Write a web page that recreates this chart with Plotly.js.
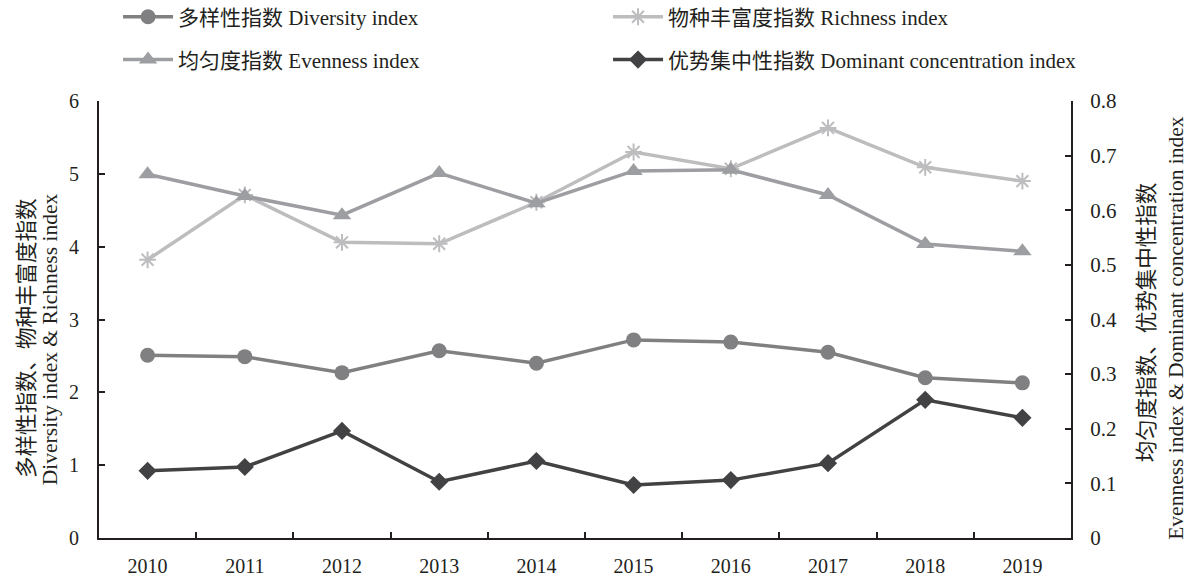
<!DOCTYPE html>
<html><head><meta charset="utf-8">
<script src="https://cdn.plot.ly/plotly-3.0.1.min.js"></script>
<style>body{margin:0;background:#fff}#c{width:1190px;height:580px}</style>
</head><body><div id="c"></div>
<script>
var years = ['2010','2011','2012','2013','2014','2015','2016','2017','2018','2019'];
var diversity = [2.51, 2.49, 2.27, 2.57, 2.40, 2.72, 2.69, 2.55, 2.20, 2.13];
var richness  = [3.82, 4.71, 4.06, 4.04, 4.61, 5.30, 5.07, 5.63, 5.09, 4.90];
var evenness  = [0.666, 0.626, 0.591, 0.668, 0.613, 0.672, 0.674, 0.628, 0.538, 0.525];
var dominant  = [0.123, 0.130, 0.196, 0.103, 0.141, 0.097, 0.106, 0.137, 0.253, 0.220];
var leftTicks = [0,1,2,3,4,5,6];
var rightTicks = [0,0.1,0.2,0.3,0.4,0.5,0.6,0.7,0.8];
var rightTickText = ['0','0.1','0.2','0.3','0.4','0.5','0.6','0.7','0.8'];
var leftTitle = ['多样性指数、物种丰富度指数', 'Diversity index & Richness index'];
var rightTitle = ['均匀度指数、优势集中性指数', 'Evenness index & Dominant concentration index'];

var FONT = '"Liberation Serif", "Noto Sans CJK SC", serif';
var traces = [
  {x: years, y: diversity, name: '多样性指数 Diversity index', mode: 'lines+markers', yaxis: 'y', legend: 'legend',
   line: {color: '#808082', width: 3.5}, marker: {symbol: 'circle', size: 15, color: '#808082'}},
  {x: years, y: richness, name: '物种丰富度指数 Richness index', mode: 'lines+markers', yaxis: 'y', legend: 'legend2',
   line: {color: '#bdbdbf', width: 3.5}, marker: {symbol: 'asterisk-open', size: 14, color: '#bdbdbf', line: {width: 2, color: '#bdbdbf'}}},
  {x: years, y: evenness, name: '均匀度指数 Evenness index', mode: 'lines+markers', yaxis: 'y2', legend: 'legend3',
   line: {color: '#9d9ea1', width: 3.5}, marker: {symbol: 'triangle-up', size: 16, color: '#9d9ea1'}},
  {x: years, y: dominant, name: '优势集中性指数 Dominant concentration index', mode: 'lines+markers', yaxis: 'y2', legend: 'legend4',
   line: {color: '#424244', width: 3.5}, marker: {symbol: 'diamond', size: 14, color: '#424244'}}
];
var axisLine = {showline: true, linecolor: '#231f20', linewidth: 2, ticks: 'inside', ticklen: 6, tickwidth: 2, tickcolor: '#231f20', showgrid: false, zeroline: false};
function leg(x, y) {
  return {orientation: 'h', x: x, y: y, xanchor: 'left', yanchor: 'middle',
    font: {family: FONT, size: 21, color: '#231f20'}, bgcolor: 'rgba(0,0,0,0)', itemwidth: 50};
}
function ann(text, x, y) {
  return {text: text, xref: 'paper', yref: 'paper', x: x, y: y, xanchor: 'center', yanchor: 'middle',
    textangle: -90, showarrow: false, font: {family: FONT, size: 21.5, color: '#231f20'}};
}
var layout = {
  width: 1190, height: 580,
  margin: {l: 99, r: 119, t: 101, b: 42, autoexpand: false},
  paper_bgcolor: '#fff', plot_bgcolor: '#fff',
  font: {family: FONT, size: 20, color: '#231f20'},
  showlegend: true,
  legend: leg(0.0196, 1.192),
  legend2: leg(0.5237, 1.192),
  legend3: leg(0.0196, 1.094),
  legend4: leg(0.5237, 1.094),
  xaxis: Object.assign({}, axisLine, {type: 'category', range: [-0.5, 9.5], tickson: 'boundaries', ticklabelstandoff: 9, tickfont: {family: FONT, size: 20}}),
  yaxis: Object.assign({}, axisLine, {range: [0, 6], tickvals: leftTicks, ticklabelstandoff: 14, tickfont: {family: FONT, size: 20}}),
  yaxis2: Object.assign({}, axisLine, {overlaying: 'y', side: 'right', range: [0, 0.8], tickvals: rightTicks, ticktext: rightTickText,
     ticklabelstandoff: 13, tickfont: {family: FONT, size: 21}}),
  annotations: [
    ann(leftTitle[0], -0.0733, 0.457),
    ann(leftTitle[1], -0.0504, 0.455),
    ann(rightTitle[0], 1.0782, 0.494),
    ann(rightTitle[1], 1.108, 0.481)
  ]
};
Plotly.newPlot('c', traces, layout, {displayModeBar: false, staticPlot: true});
</script></body></html>
